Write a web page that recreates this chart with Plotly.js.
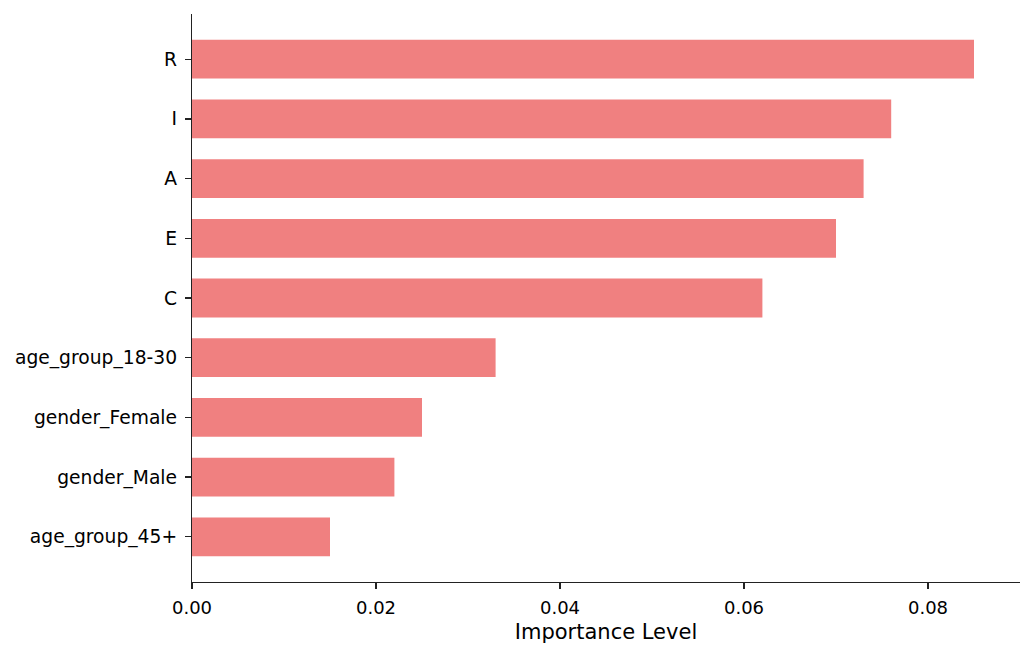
<!DOCTYPE html>
<html>
<head>
<meta charset="utf-8">
<script src="https://cdn.plot.ly/plotly-3.0.1.min.js"></script>
<style>html,body{margin:0;padding:0;background:#fff;}#chart{width:1035px;height:659px;}</style>
</head>
<body>
<div id="chart"></div>
<script>
const features = ["age_group_45+", "gender_Male", "gender_Female", "age_group_18-30", "C", "E", "A", "I", "R"];
const importance = [0.015, 0.022, 0.025, 0.033, 0.062, 0.070, 0.073, 0.076, 0.085];
const xTickVals = [0, 0.02, 0.04, 0.06, 0.08];
const xTickText = ["0.00", "0.02", "0.04", "0.06", "0.08"];

const trace = {
  type: "bar",
  orientation: "h",
  x: importance,
  y: features,
  marker: {color: "#F08080", line: {width: 0}},
  width: 0.65,
  hoverinfo: "x+y"
};

const font = {family: "DejaVu Sans, sans-serif", color: "#000"};

const layout = {
  width: 1035,
  height: 659,
  paper_bgcolor: "#fff",
  plot_bgcolor: "#fff",
  margin: {l: 192, r: 15, t: 14, b: 77},
  font: Object.assign({size: 18}, font),
  showlegend: false,
  xaxis: {
    range: [0, 0.09],
    tickvals: xTickVals,
    ticktext: xTickText,
    ticks: "outside",
    ticklen: 6,
    tickwidth: 1.2,
    tickcolor: "#222",
    ticklabelstandoff: 3,
    showline: true,
    linecolor: "#222",
    linewidth: 1.2,
    showgrid: false,
    zeroline: false,
    automargin: false,
    tickfont: Object.assign({size: 18}, font),
    title: {text: "Importance Level", font: Object.assign({size: 21}, font), standoff: 7}
  },
  yaxis: {
    range: [-0.7575, 8.7575],
    type: "category",
    ticks: "outside",
    ticklen: 6,
    tickwidth: 1.2,
    tickcolor: "#222",
    ticklabelstandoff: 4,
    showline: true,
    linecolor: "#222",
    linewidth: 1.2,
    showgrid: false,
    zeroline: false,
    tickfont: Object.assign({size: 18.7}, font),
    automargin: false
  }
};

Plotly.newPlot("chart", [trace], layout, {displayModeBar: false, staticPlot: true});
</script>
</body>
</html>
